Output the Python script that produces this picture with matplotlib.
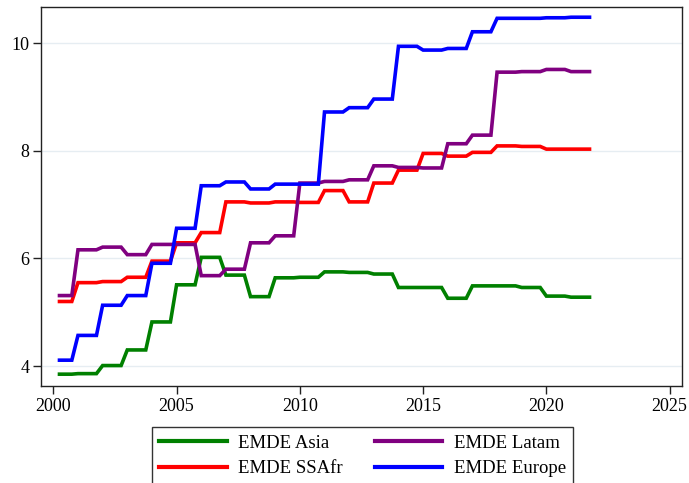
import numpy as np
import matplotlib
matplotlib.use("Agg")
import matplotlib.pyplot as plt

years = list(range(2000, 2022))
asia = [3.85, 3.86, 4.01, 4.30, 4.82, 5.51, 6.02, 5.69, 5.29, 5.64, 5.65,
        5.75, 5.74, 5.71, 5.46, 5.46, 5.26, 5.49, 5.49, 5.46, 5.30, 5.28]
ssafr = [5.20, 5.55, 5.57, 5.65, 5.95, 6.29, 6.48, 7.05, 7.03, 7.05, 7.04,
         7.26, 7.05, 7.40, 7.64, 7.95, 7.90, 7.97, 8.09, 8.08, 8.03, 8.03]
latam = [5.31, 6.16, 6.21, 6.07, 6.26, 6.26, 5.68, 5.80, 6.29, 6.42, 7.40,
         7.43, 7.46, 7.72, 7.69, 7.68, 8.13, 8.29, 9.46, 9.47, 9.51, 9.47]
europe = [4.11, 4.57, 5.13, 5.31, 5.91, 6.56, 7.35, 7.42, 7.29, 7.38, 7.38,
          8.72, 8.80, 8.96, 9.94, 9.87, 9.90, 10.21, 10.46, 10.46, 10.47, 10.48]
labels = ["EMDE Asia", "EMDE SSAfr", "EMDE Latam", "EMDE Europe"]
colors = ["#008000", "#ff0000", "#800080", "#0000ff"]
first_quarter = 0.25  # series begins in Q2 2000
last_quarter = 0.75

def quarterly_path(yrs, vals):
    xs, ys = [], []
    for i, (yr, v) in enumerate(zip(yrs, vals)):
        start = yr + (first_quarter if i == 0 else 0.0)
        xs += [start, yr + last_quarter]
        ys += [v, v]
    return xs, ys

plt.rcParams['font.family'] = ['Liberation Serif', 'DejaVu Serif']

fig = plt.figure(figsize=(6.89, 4.83), dpi=100)
ax = fig.add_axes([0.0595, 0.2008, 0.9303, 0.7847])

for vals, lab, col in zip([asia, ssafr, latam, europe], labels, colors):
    xs, ys = quarterly_path(years, vals)
    ax.plot(xs, ys, color=col, lw=2.6, label=lab, solid_joinstyle='miter')

ax.set_xlim(1999.5, 2025.5)
ax.set_ylim(3.63, 10.67)
ax.set_xticks([2000, 2005, 2010, 2015, 2020, 2025])
ax.set_yticks([4, 6, 8, 10])
ax.grid(axis='y', color='#e6edf2', lw=1.0)
ax.set_axisbelow(True)
for s in ax.spines.values():
    s.set_color('#222222')
    s.set_linewidth(1.0)
ax.tick_params(axis='both', direction='out', length=5.5, width=1, colors='#222222',
               labelsize=13, labelcolor='black', pad=3)

leg = fig.legend(loc='upper center', bbox_to_anchor=(0.5261, 1 - 427 / 483), ncol=2,
                 frameon=True, fancybox=False, edgecolor='black', fontsize=13.5,
                 handlelength=3.6, handletextpad=0.62, columnspacing=1.69,
                 borderpad=0.4, labelspacing=0.45, borderaxespad=0.0)
leg.get_frame().set_linewidth(1.0)
for h in leg.get_lines():
    h.set_linewidth(3.0)

fig.savefig("out.png", dpi=100)
